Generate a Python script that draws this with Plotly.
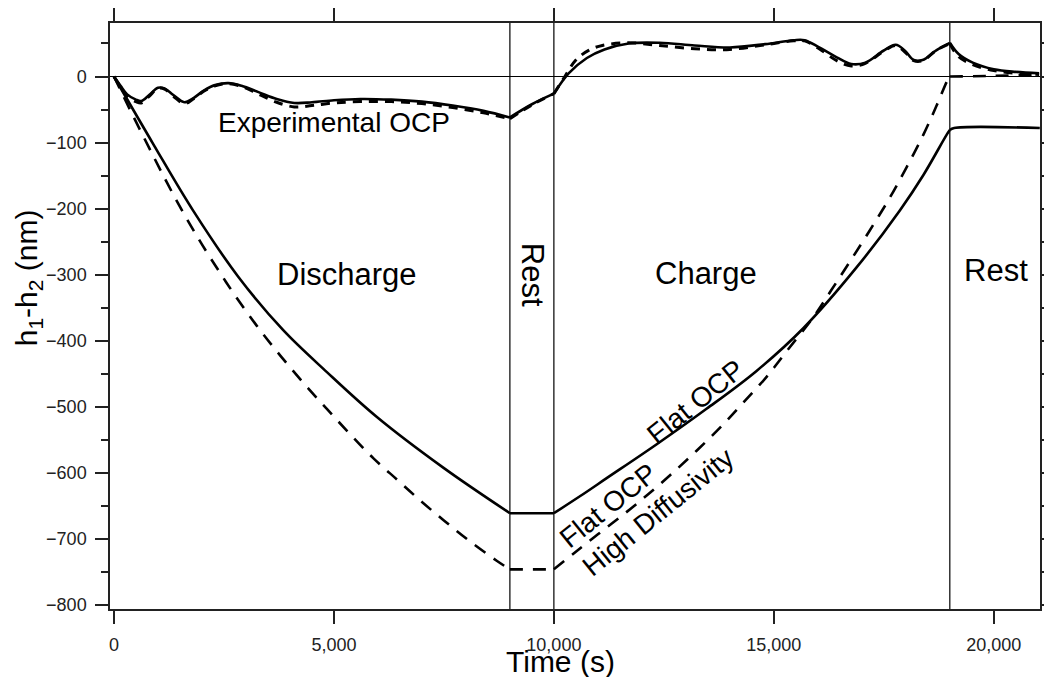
import plotly.graph_objects as go

# ---------------- data ----------------
# Flat OCP (solid)
t_flat = [0, 900, 1800, 2825, 3848, 4834, 5970, 7485, 9000,
          10000, 10600, 11200, 12330, 13470, 14600, 15670, 16880, 17860, 18400, 18930,
          19000, 19100, 21045]
v_flat = [0, -103, -203, -303, -384, -447, -515, -592, -661,
          -661, -635, -608, -557, -503, -446, -381, -289, -203, -149, -88,
          -81, -78, -78]

# Flat OCP, high diffusivity (dashed)
t_flat_hd = [0, 400, 800, 1200, 1600, 2000, 2400, 2800, 3300, 3800, 4350, 4850, 5350, 5900, 6450, 6950, 7500,
             8100, 8700, 9000, 10000, 10450, 11000, 11600, 12150, 12700, 13250, 13800, 14300, 14830, 15300,
             15900, 16300, 16730, 17180, 17640, 18020, 18400, 18700, 18930, 19000, 20000, 21045]
v_flat_hd = [0, -55, -108, -160, -209, -254, -296, -336, -382, -424, -467, -504, -540, -578, -611, -641, -672,
             -704, -733, -746, -746, -722, -693, -662, -632, -600, -566, -530, -494, -455, -415,
             -364, -324, -280, -233, -183, -137, -88, -44, -8, 0, 1, 3]

# Experimental OCP (solid)
t_exp = [0, 150, 300, 500, 620, 800, 1000, 1150, 1350, 1600, 1800, 2050, 2300, 2600, 2900, 3300, 3700, 4100,
         4500, 5000, 5600, 6300, 7000, 7700, 8400, 9000, 9500, 10000, 10340, 10750, 11150, 11700, 12400,
         13200, 14000, 14800, 15450, 15700, 16030, 16430, 16760, 17080, 17490, 17770, 17980, 18180, 18380,
         18700, 19000, 19200, 19520, 20000, 20500, 21030]
v_exp = [0, -14, -27, -35, -37, -28, -17, -18, -28, -39, -33, -21, -13, -10, -14, -24, -34, -40,
         -39, -36, -34, -35, -38, -44, -52, -62, -42, -26, 5, 28, 41, 50, 51,
         47, 44, 49, 55, 55, 44, 29, 19, 21, 39, 48, 39, 25, 25,
         40, 51, 34, 21, 11, 7, 5]

# Experimental OCP, high diffusivity (dashed)
t_exp_hd = [0, 150, 300, 500, 620, 800, 1000, 1150, 1350, 1600, 1800, 2050, 2300, 2600, 2900, 3300, 3700, 4100,
            4500, 5000, 5600, 6300, 7000, 7700, 8400, 9000, 9500, 10000, 10250, 10500, 10800, 11100, 11700,
            12400, 13200, 14000, 14800, 15450, 15700, 16030, 16430, 16760, 17080, 17490, 17770, 17980, 18180,
            18380, 18700, 19000, 19200, 19520, 20000, 20500, 21030]
v_exp_hd = [0, -16, -30, -38, -40, -30, -18, -19, -30, -41, -34, -22, -14, -11, -15, -27, -39, -46,
            -44, -40, -38, -38, -41, -47, -55, -64, -43, -26, 0, 25, 40, 47, 51,
            47, 42, 41, 48, 54, 54, 42, 24, 16, 20, 38, 47, 37, 24,
            24, 40, 50, 30, 18, 9, 5, 3]

phase_bounds = [9000, 10000, 19000]
x_ticks = [0, 5000, 10000, 15000, 20000]
x_ticktext = ["0", "5,000", "10,000", "15,000", "20,000"]
y_ticks = [-800, -700, -600, -500, -400, -300, -200, -100, 0]
y_minor = [-750, -650, -550, -450, -350, -250, -150, -50, 50]

FONT = "Liberation Sans, Arial, sans-serif"
fig = go.Figure()


def segments(t, v):
    """split a series at the phase boundaries so corners stay sharp"""
    cuts = [0]
    for b in phase_bounds:
        for i, tt in enumerate(t):
            if tt == b:
                cuts.append(i)
                break
    cuts.append(len(t) - 1)
    out = []
    for a, b in zip(cuts[:-1], cuts[1:]):
        if b > a:
            out.append((t[a:b + 1], v[a:b + 1]))
    return out


def add_series(t, v, dash, width, shape):
    for xs, ys in segments(t, v):
        fig.add_trace(go.Scatter(x=xs, y=ys, mode="lines",
                                 line=dict(color="black", width=width, dash=dash, shape=shape,
                                           smoothing=1.0),
                                 hoverinfo="skip", showlegend=False))


add_series(t_exp_hd, v_exp_hd, "9px,7px", 3, "spline")
add_series(t_exp, v_exp, "solid", 2.6, "spline")
add_series(t_flat_hd, v_flat_hd, "13px,10px", 2.6, "spline")
add_series(t_flat, v_flat, "solid", 2.6, "spline")

shapes = []
for b in phase_bounds:
    shapes.append(dict(type="line", xref="x", yref="paper", x0=b, x1=b, y0=0, y1=1,
                       line=dict(color="black", width=1.2), layer="below"))
shapes.append(dict(type="line", xref="paper", yref="y", x0=0, x1=1, y0=0, y1=0,
                   line=dict(color="black", width=1.2), layer="below"))

anns = [
    dict(text="Experimental OCP", x=5000, y=-70, size=28, angle=0),
    dict(text="Discharge", x=5307, y=-300, size=31, angle=0),
    dict(text="Charge", x=13450, y=-298, size=31, angle=0),
    dict(text="Rest", x=20061, y=-294, size=31, angle=0),
    dict(text="Rest", x=9500, y=-300, size=31, angle=90),
    dict(text="Flat OCP", x=13230, y=-492, size=28, angle=-39),
    dict(text="Flat OCP<br>High Diffusivity", x=12114, y=-637, size=28, angle=-39, align="left"),
]
annotations = []
for a in anns:
    annotations.append(dict(text=a["text"], x=a["x"], y=a["y"], xref="x", yref="y",
                            showarrow=False, textangle=a["angle"], align=a.get("align", "center"),
                            xanchor="center", yanchor="middle",
                            font=dict(family=FONT, size=a["size"], color="black")))

annotations.append(dict(text="Time (s)", xref="paper", yref="paper", x=0.484, y=0,
                        xanchor="center", yanchor="top", yshift=-34, showarrow=False,
                        font=dict(family=FONT, size=30, color="black")))
annotations.append(dict(text="h<sub>1</sub>-h<sub>2</sub> (nm)", xref="paper", yref="paper",
                        x=-0.088, y=0.5646, xanchor="center", yanchor="middle", textangle=-90,
                        showarrow=False, font=dict(family=FONT, size=30, color="black")))

fig.update_layout(
    width=1044, height=677,
    margin=dict(l=110, r=4, t=23, b=68, autoexpand=False),
    paper_bgcolor="white", plot_bgcolor="white",
    shapes=shapes, annotations=annotations,
    font=dict(family=FONT, color="#222"),
)
fig.update_xaxes(range=[-90, 21050], tickvals=x_ticks, ticktext=x_ticktext,
                 ticks="outside", ticklen=13, tickwidth=1.5, tickcolor="#222",
                 showline=True, linewidth=1.5, linecolor="#222", mirror="ticks",
                 showgrid=False, zeroline=False, ticklabelstandoff=6, automargin=False,
                 tickfont=dict(family=FONT, size=18, color="#222"))
fig.update_yaxes(range=[-806, 81], tickvals=y_ticks,
                 ticks="outside", ticklen=13, tickwidth=1.5, tickcolor="#222",
                 showline=True, linewidth=1.5, linecolor="#222", mirror="ticks",
                 showgrid=False, zeroline=False, ticklabelstandoff=5, automargin=False,
                 minor=dict(tickvals=y_minor, ticks="outside", ticklen=7, tickwidth=1.5,
                            tickcolor="#222", showgrid=False),
                 tickfont=dict(family=FONT, size=18, color="#222"))

fig.write_html("out.html")
